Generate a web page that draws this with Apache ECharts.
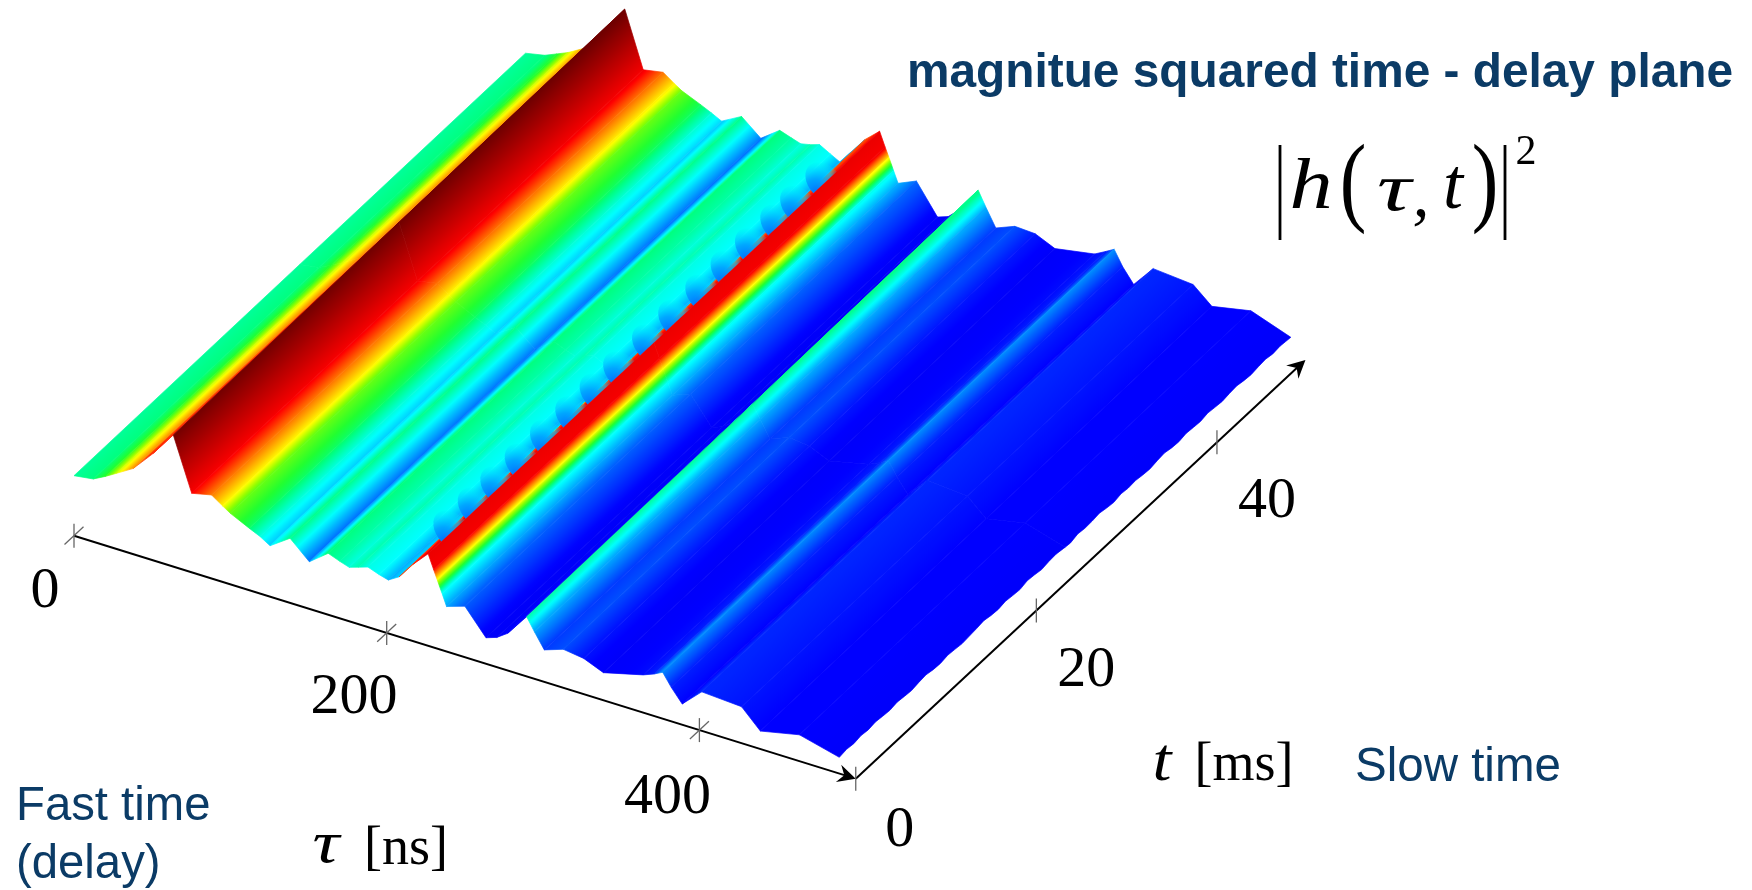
<!DOCTYPE html>
<html><head><meta charset="utf-8">
<style>html,body{margin:0;padding:0;background:#fff}#c{width:1752px;height:890px}</style>
<script src="https://cdn.jsdelivr.net/npm/echarts@6/dist/echarts.min.js"></script>
</head><body><div id="c"></div>
<script>
// ---------- data ----------
const tauKnots = [0,12.3,20,27.3,38,50.7,63.5,75.3,88,95,100,112,119,125.4,138.2,150.5,162.6,170,176,182,188,195,201,208,217,226.5,230,232.4,235.4,238.3,250,263.5,270.4,277.4,289.5,294.5,300.8,313,326,338.6,364,371,376.5,382,389,401.5,427,439,464,489.5];
const slowRows = [0,25,50];
const heightT0  = [60,62.7,69,75.7,85.8,107,131.6,79,83.5,76,71,62,57,50.9,64.6,47.1,61.4,57,53.9,57,60,56,53.4,60,77,92,78,68.5,56.7,45,51,26,29.7,37.2,59.7,47,32,38.5,35.7,27.6,37.7,42,46.4,34,20.8,39,36.5,18,26.4,16.3];
const heightT25 = [61,64,70,76,86,108,134,81,85,77,72,63,58,53,65,49,63,58,55,58,61,56,52,62,79,93,79,69.5,57.7,46,53,26,30,38,62,49,33,40,38,29,38,43,48,34,20,40,37,20,28,16];
const heightT50 = [62,65.9,71,75.9,85.6,110,137,82,85.7,78,73,65,60,55,65.9,50,63.9,60,57,59,62,56,51,64,81,94,80,70.9,59,47.7,55.7,26.2,30,40,65.8,51,33.4,41,39.9,31.2,38.1,44,48.9,34,19.8,41.7,38.2,22.2,29.9,15.8];
const colourLevel = [.43,.45,.5,.62,.74,.82,1,.86,.76,.66,.55,.47,.38,.31,.44,.22,.45,.42,.38,.41,.37,.35,.28,.3,.8,.87,.86,.65,.36,.27,.2,.08,.07,.1,.44,.27,.16,.18,.12,.08,.11,.13,.24,.13,.1,.14,.12,.1,.1,.08];
// serrated last column (t in ms, height)
const edgeT = [0,.8,1.6,2.4,3.2,4,4.8,5.6,6.4,7.2,8,8.8,9.6,10.4,11.2,12,12.8,13.6,14.4,15.2,16,16.8,17.6,18.4,19.2,20,20.8,21.6,22.4,23.2,24,24.8,25.6,26.4,27.2,28,28.8,29.6,30.4,31.2,32,32.8,33.6,34.4,35.2,36,36.8,37.6,38.4,39.2,40,40.8,41.6,42.4,43.2,44,44.8,45.6,46.4,47.2,48,48.8,49.4,50];
const edgeZ = [16.3,17.5,16.5,17.8,16.8,18,17,16.2,17.6,16.6,15.8,17.2,18,16.5,16,17.4,16.6,15.6,16.4,17.2,18.4,16.8,16.2,17.6,16.6,15.8,17.8,17,15.6,17,17.6,16.4,15.4,17.6,16.6,17,18.2,16.6,15.6,17.4,16.4,17.2,16,15.4,16.8,17.8,16.2,15.6,17.2,16.4,15.8,17.4,16.4,15.6,16.8,17.6,16.2,15.4,16.6,17.4,16,17,16.4,15.8];
const scallopT = [1.7,4.4,6.9,9.6,12.4,15.2,17.9,20.5,23.7,26.6,29.6,32.4,35.1,37.9,40.1,42.9];
const tauTicks = [0,200,400];
const tauTickLabels = ['0','200','400'];
const slowTicks = [0,20,40];
const slowTickLabels = ['0','20','40'];
const tauEnd = 500, slowEnd = 49.8;

// ---------- oblique projection ----------
const O = {x:74, y:535.7}, TAU = {x:1.5635, y:0.486}, SLOW = {x:9.03, y:-8.41};
function project(tau, t, z){ return [O.x + TAU.x*tau + SLOW.x*t, O.y + TAU.y*tau + SLOW.y*t - (z||0)]; }
const tLen = Math.hypot(SLOW.x, SLOW.y), uDir=[SLOW.x/tLen, SLOW.y/tLen], nDir=[uDir[1], -uDir[0]];

// ---------- colour ----------
const palette = [[0,[0,0,232]],[.1,[0,0,255]],[.2,[0,96,255]],[.3,[0,200,255]],[.35,[0,255,255]],[.45,[0,255,128]],[.5,[32,255,48]],[.58,[144,255,0]],[.65,[255,255,0]],[.75,[255,128,0]],[.85,[255,0,0]],[1,[112,0,0]]];
function colourOf(v){
  for(let i=1;i<palette.length;i++){ if(v<=palette[i][0]){ const a=palette[i-1],b=palette[i],f=(v-a[0])/(b[0]-a[0]);
    return 'rgb('+a[1].map((c,k)=>Math.round(c+(b[1][k]-c)*f)).join(',')+')'; } }
  return 'rgb(112,0,0)';
}
const rows=[heightT0,heightT25,heightT50];
const meanZ=i=>(rows[0][i]+rows[1][i]+rows[2][i])/3;

const ridgeIdx = tauKnots.indexOf(226.5);
const cells=[];
for(let j=slowRows.length-2;j>=0;j--) for(let i=0;i<tauKnots.length-1;i++) cells.push([i,j]);

function renderCell(params, api){
  const i=api.value(0), j=api.value(1);
  const t0=slowRows[j], t1=slowRows[j+1];
  const P00=project(tauKnots[i],t0,rows[j][i]), P10=project(tauKnots[i+1],t0,rows[j][i+1]);
  const P01=project(tauKnots[i],t1,rows[j+1][i]), P11=project(tauKnots[i+1],t1,rows[j+1][i+1]);
  const pts=[P00,P10];
  if(i===tauKnots.length-2){
    edgeT.forEach((t,k)=>{ if(t>t0 && t<t1) pts.push(project(tauKnots[i+1],t,edgeZ[k])); });
  }
  pts.push(P11,P01);
  // colour bands run along slow time: one gradient line per delay strip, shared by all rows
  const s=project(tauKnots[i],25,meanZ(i)), e=project(tauKnots[i+1],25,meanZ(i+1));
  const d=(e[0]-s[0])*nDir[0]+(e[1]-s[1])*nDir[1];
  const v0=colourLevel[i],v1=colourLevel[i+1];
  let fill;
  if(Math.abs(d)<0.05) fill=colourOf((v0+v1)/2);
  else{
    const stops=[]; for(let k=0;k<=10;k++) stops.push({offset:k/10,color:colourOf(v0+(v1-v0)*k/10)});
    const a=api.coord(s), b=api.coord([s[0]+nDir[0]*d,s[1]+nDir[1]*d]);
    fill={type:'linear',x:a[0],y:a[1],x2:b[0],y2:b[1],colorStops:stops,global:true};
  }
  return {type:'polygon',shape:{points:pts.map(p=>api.coord(p))},style:{fill:fill,stroke:fill,lineWidth:0.7}};
}

function renderScallop(params, api){
  const t=api.value(0);
  const h=(rows[0][ridgeIdx]+(rows[2][ridgeIdx]-rows[0][ridgeIdx])*t/50);
  const tip=project(tauKnots[ridgeIdx],t,h);
  const c=[tip[0]+uDir[0]*13,tip[1]+uDir[1]*13];
  const R=16, pts=[];
  for(let a=0;a<=180;a+=12){ const r=a*Math.PI/180; pts.push([c[0]+R*Math.cos(r)*uDir[0]+R*1.45*Math.sin(r)*nDir[0], c[1]+R*Math.cos(r)*uDir[1]+R*1.45*Math.sin(r)*nDir[1]]); }
  const g=api.coord(tip);
  const fill={type:'radial',x:g[0],y:g[1],r:31,global:true,colorStops:[{offset:0,color:'rgba(0,120,255,1)'},{offset:.4,color:'rgba(0,165,255,.95)'},{offset:.72,color:'rgba(0,215,255,.65)'},{offset:1,color:'rgba(0,245,240,0)'}]};
  return {type:'polygon',shape:{points:pts.map(p=>api.coord(p))},style:{fill:fill}};
}

const INK='#000', TICK='#666', FONT_M='"Liberation Serif","DejaVu Serif",serif';
function renderTauTick(params, api){
  const v=api.value(0), p=project(v,0,0), cs=[];
  cs.push({type:'line',shape:{x1:api.coord(p)[0],y1:api.coord([p[0],p[1]-12])[1],x2:api.coord(p)[0],y2:api.coord([p[0],p[1]+12])[1]},style:{stroke:TICK,lineWidth:1.3}});
  const a=api.coord([p[0]-uDir[0]*13,p[1]-uDir[1]*13]), b=api.coord([p[0]+uDir[0]*13,p[1]+uDir[1]*13]);
  cs.push({type:'line',shape:{x1:a[0],y1:a[1],x2:b[0],y2:b[1]},style:{stroke:TICK,lineWidth:1.3}});
  const off=[[-29,56],[-32.7,65],[-32,68]][params.dataIndex];
  const q=api.coord([p[0]+off[0],p[1]+off[1]]);
  cs.push({type:'text',style:{text:tauTickLabels[params.dataIndex],x:q[0],y:q[1],align:'center',verticalAlign:'middle',font:'58px '+FONT_M,fill:INK}});
  return {type:'group',children:cs};
}
function renderSlowTick(params, api){
  const v=api.value(0), p=project(tauEnd,v,0), cs=[];
  const a=api.coord([p[0],p[1]-12]), b=api.coord([p[0],p[1]+12]);
  cs.push({type:'line',shape:{x1:a[0],y1:a[1],x2:b[0],y2:b[1]},style:{stroke:TICK,lineWidth:1.3}});
  const off=[[44,52],[50,60],[50,59]][params.dataIndex];
  const q=api.coord([p[0]+off[0],p[1]+off[1]]);
  cs.push({type:'text',style:{text:slowTickLabels[params.dataIndex],x:q[0],y:q[1],align:'center',verticalAlign:'middle',font:'58px '+FONT_M,fill:INK}});
  return {type:'group',children:cs};
}
function arrow(api, from, to){
  const s=api.coord(from), e=api.coord(to), L=Math.hypot(e[0]-s[0],e[1]-s[1]), ux=(e[0]-s[0])/L, uy=(e[1]-s[1])/L, nx=-uy, ny=ux;
  const A=(b,w)=>[e[0]-ux*b+nx*w,e[1]-uy*b+ny*w];
  return [{type:'line',shape:{x1:s[0],y1:s[1],x2:e[0]-ux*6,y2:e[1]-uy*6},style:{stroke:INK,lineWidth:2}},
    {type:'polygon',shape:{points:[[e[0],e[1]],A(18,9),A(12,0),A(18,-9)]},style:{fill:INK}}];
}
function renderAxes(params, api){
  return {type:'group',children:[].concat(arrow(api,project(0,0,0),project(tauEnd,0,0)),arrow(api,project(tauEnd,0,0),project(tauEnd,slowEnd,0)))};
}

const BLUE='#0b3b66';
const chart=echarts.init(document.getElementById('c'),null,{renderer:'canvas'});
const T=(text,x,y,font,fill,align,sx)=>({type:'text',silent:true,x,y,scaleX:sx||1,style:{text,x:0,y:0,font,fill:fill||INK,align:align||'center',verticalAlign:'middle'}});
const Bar=(x,y1,y2)=>({type:'line',silent:true,shape:{x1:x,y1,x2:x,y2},style:{stroke:INK,lineWidth:2.8}});
const SANS='"Liberation Sans",Arial,sans-serif';
chart.setOption({
  animation:false,
  title:{text:'magnitue squared time - delay plane',left:907,top:45,padding:0,textStyle:{fontFamily:SANS,fontWeight:'bold',fontSize:47.8,color:BLUE,lineHeight:58}},
  grid:{left:0,right:0,top:0,bottom:0},
  xAxis:{type:'value',min:0,max:1752,show:false},
  yAxis:{type:'value',min:0,max:890,inverse:true,show:false},
  graphic:{elements:[
    T('Fast time',16,807,'47.3px '+SANS,BLUE,'left'),
    T('(delay)',16,865,'47.3px '+SANS,BLUE,'left'),
    T('Slow time',1355,768,'47.5px '+SANS,BLUE,'left'),
    T('τ',326,846,'italic 60px '+FONT_M,INK,'center',1.25),
    T('[ns]',406,850,'54px '+FONT_M),
    T('t',1162,764,'italic 62px '+FONT_M,INK,'center',1.1),
    T('[ms]',1244,766,'54px '+FONT_M),
    Bar(1280,145,240),Bar(1505,145,240),
    T('h',1311,189,'italic 72px '+FONT_M,INK,'center',1.2),
    T('(',1353,187,'100px '+FONT_M,INK,'center',.8),
    T('τ',1394,192,'italic 68px '+FONT_M,INK,'center',1.4),
    T(',',1421,198,'italic 68px '+FONT_M),
    T('t',1453,189,'italic 72px '+FONT_M),
    T(')',1485,187,'100px '+FONT_M,INK,'center',.8),
    T('2',1526,153,'42px '+FONT_M)
  ]},
  series:[
    {type:'custom',coordinateSystem:'cartesian2d',silent:true,clip:false,progressive:0,data:[[0]],renderItem:renderAxes,encode:{x:0,y:0},z:1},
    {type:'custom',coordinateSystem:'cartesian2d',silent:true,clip:false,progressive:0,data:tauTicks.map(v=>[v]),renderItem:renderTauTick,encode:{x:0,y:0},z:2},
    {type:'custom',coordinateSystem:'cartesian2d',silent:true,clip:false,progressive:0,data:slowTicks.map(v=>[v]),renderItem:renderSlowTick,encode:{x:0,y:0},z:2},
    {type:'custom',coordinateSystem:'cartesian2d',silent:true,clip:false,progressive:0,data:cells,renderItem:renderCell,encode:{x:0,y:1},z:3},
    {type:'custom',coordinateSystem:'cartesian2d',silent:true,clip:false,progressive:0,data:scallopT.map(v=>[v]),renderItem:renderScallop,encode:{x:0,y:0},z:4}
  ]
});
</script></body></html>
